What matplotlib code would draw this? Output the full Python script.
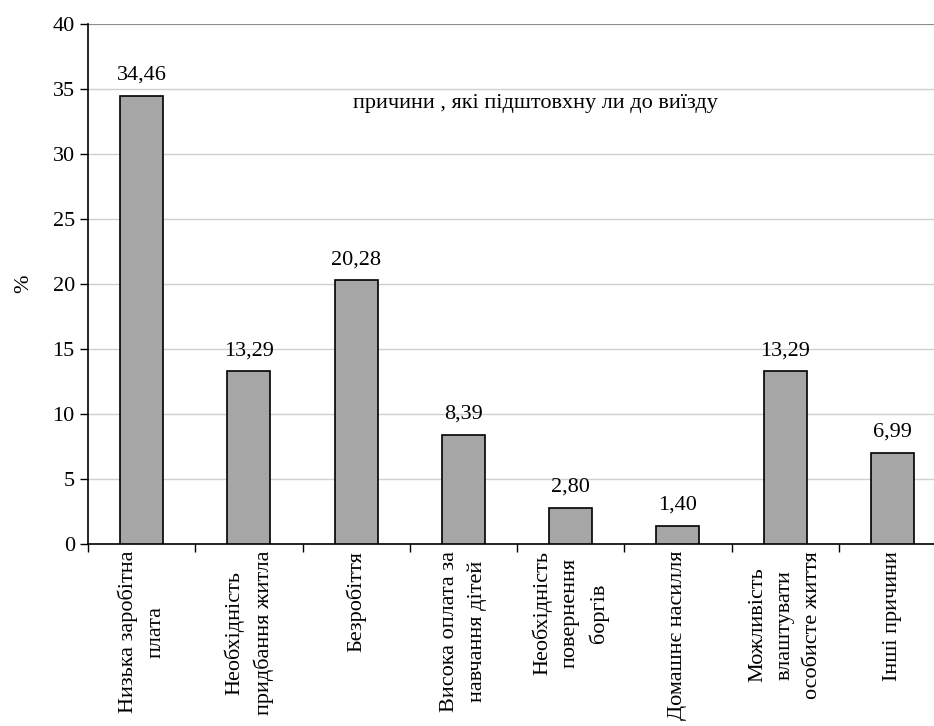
import numpy as np
import matplotlib
matplotlib.use("Agg")
import matplotlib.pyplot as plt

# ── Data ──────────────────────────────────────────────
categories = [
    "Низька заробітна\nплата",
    "Необхідність\nпридбання житла",
    "Безробіття",
    "Висока оплата за\nнавчання дітей",
    "Необхідність\nповернення\nборгів",
    "Домашнє насилля",
    "Можливість\nвлаштувати\nособисте життя",
    "Інші причини",
]
values = [34.46, 13.29, 20.28, 8.39, 2.80, 1.40, 13.29, 6.99]
value_labels = ["34,46", "13,29", "20,28", "8,39", "2,80", "1,40", "13,29", "6,99"]
y_ticks = [0, 5, 10, 15, 20, 25, 30, 35, 40]

plt.rcParams["font.family"] = ["Liberation Serif", "DejaVu Serif"]
FS = 16

fig = plt.figure(figsize=(9.34, 7.26), dpi=100)
W, H = 934, 726
ax = fig.add_axes([88 / W, 1 - 544 / H, (946 - 88) / W, (544 - 24) / H])

x = np.arange(len(values))
ax.bar(x, values, width=0.4, color="#a6a6a6", edgecolor="black", linewidth=1.2, zorder=3)

for xi, v, lab in zip(x, values, value_labels):
    ax.annotate(lab, (xi, v), xytext=(0, 8), textcoords="offset points",
                ha="center", va="bottom", fontsize=FS)

ax.set_xlim(-0.5, len(values) - 0.5)
ax.set_ylim(0, 40)
ax.set_yticks(y_ticks)
ax.set_yticklabels([str(t) for t in y_ticks], fontsize=FS)
ax.yaxis.grid(True, color="#d0d0d0", linewidth=1, zorder=0)

# category labels between ticks
ax.set_xticks(x)
ax.set_xticklabels(categories, rotation=90, fontsize=FS, va="top", ha="center",
                   multialignment="center", linespacing=1.6)
ax.tick_params(axis="x", length=0, pad=5)
ax.set_xticks(np.arange(len(values) + 1) - 0.5, minor=True)
ax.tick_params(axis="x", which="minor", length=6, direction="out", width=1)
ax.tick_params(axis="y", length=6, direction="out", width=1)

for side in ["top", "right"]:
    ax.spines[side].set_visible(False)
ax.spines["left"].set_linewidth(1.2)
ax.spines["bottom"].set_linewidth(1.2)
ax.axhline(40, color="#808080", linewidth=1.2, zorder=2)

ax.set_ylabel("%", fontsize=FS, labelpad=14)

ax.text(3.67, 33.9, "причини , які підштовхну ли до виїзду", ha="center", va="center",
        fontsize=FS)

fig.savefig("out.png", dpi=100)
